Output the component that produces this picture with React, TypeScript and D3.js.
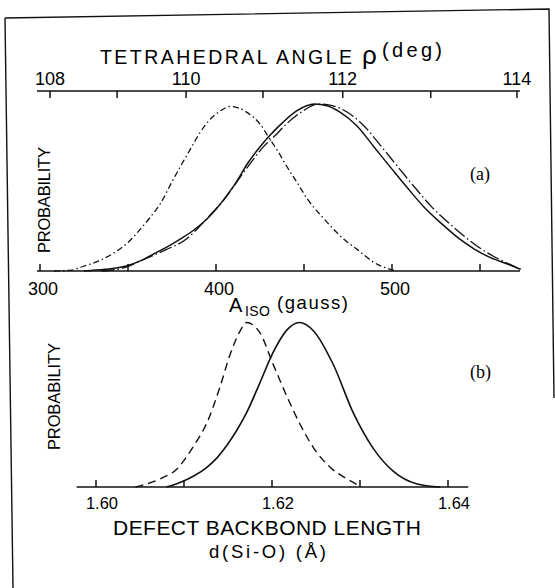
import React from 'react';
import * as d3 from 'd3';

// panel (a): A_iso (gauss) axis
const aisoTicks = [300, 350, 400, 450, 500, 550];
const aisoLabels = [300, 400, 500];
const aisoExtent = [298.3, 572.7];
// top axis: tetrahedral angle, placed at its A_iso equivalent
const angleTicks = [108, 109, 110, 111, 112, 113, 114];
const angleAtGauss = [305.7, 343.8, 383, 426.7, 472, 522, 571];
const angleLabels = [108, 110, 112, 114];

// panel (a) curves [A_iso, probability]
const aisoSolid: [number, number][] = [
  [325, 0], [337, 0.01], [349, 0.03], [358, 0.065], [366, 0.11], [374, 0.155],
  [381, 0.2], [388, 0.25], [394.7, 0.31], [400, 0.37], [406, 0.45], [412, 0.54],
  [418, 0.645], [424, 0.73], [430, 0.805], [438, 0.89], [446, 0.96], [456, 1.0],
  [463, 0.99], [470, 0.955], [480, 0.87], [490, 0.74], [500, 0.61], [509, 0.495],
  [518, 0.385], [528, 0.285], [538, 0.195], [547, 0.13], [556, 0.08], [566, 0.04],
  [573, 0.01],
];
const aisoLongDashDot: [number, number][] = [
  [335, 0], [348, 0.02], [359, 0.069], [371, 0.125], [383, 0.19], [391, 0.27],
  [398, 0.35], [404, 0.42], [410, 0.506], [415, 0.58], [421, 0.665], [427, 0.745],
  [433, 0.805], [441, 0.89], [449, 0.955], [458, 1.0], [466, 0.99], [474, 0.955],
  [484, 0.87], [494, 0.745], [504, 0.615], [513, 0.5], [522, 0.39], [532, 0.29],
  [542, 0.2], [551, 0.13], [560, 0.075], [568, 0.035], [573, 0.01],
];
const aisoShifted: [number, number][] = [
  [308, 0], [318, 0.005], [324.4, 0.027], [334, 0.063], [340.7, 0.1], [350, 0.171],
  [356.8, 0.248], [362.5, 0.32], [368.2, 0.4], [374.8, 0.53], [380, 0.63], [386, 0.74],
  [391, 0.83], [396, 0.9], [402, 0.955], [408, 0.985], [413, 0.975], [417.6, 0.95],
  [425, 0.88], [430, 0.8], [435, 0.72], [440, 0.63], [446, 0.53], [452, 0.43],
  [462, 0.305], [471.6, 0.2], [480.7, 0.125], [490, 0.05], [499, 0.01], [503, 0],
];

// panel (b): Si-O backbond length (Å)
const bondTicks = [1.6, 1.61, 1.62, 1.63, 1.64];
const bondLabels = ['1.60', '1.62', '1.64'];
const bondExtent = [1.5978, 1.6423];
const bondDashed: [number, number][] = [
  [1.6045, 0], [1.6052, 0.01], [1.6073, 0.05], [1.6092, 0.11], [1.6111, 0.25],
  [1.6126, 0.39], [1.6141, 0.61], [1.6152, 0.8], [1.6164, 0.95], [1.6171, 1.0],
  [1.6186, 0.94], [1.6201, 0.75], [1.6217, 0.55], [1.6232, 0.38], [1.6247, 0.24],
  [1.6266, 0.12], [1.6285, 0.05], [1.63, 0.005],
];
const bondSolid: [number, number][] = [
  [1.608, 0], [1.6099, 0.035], [1.6112, 0.07], [1.6126, 0.12], [1.6138, 0.18],
  [1.6149, 0.255], [1.616, 0.345], [1.6171, 0.45], [1.6186, 0.63], [1.6201, 0.815],
  [1.6217, 0.955], [1.6231, 1.0], [1.6247, 0.95], [1.627, 0.74], [1.6292, 0.455],
  [1.6315, 0.235], [1.6338, 0.095], [1.6364, 0.02], [1.6391, 0],
];

const sans = '"Liberation Sans", Arial, sans-serif';
const serif = '"Liberation Serif", serif';

export default function App() {
  const xA = d3.scaleLinear().domain([300, 500]).range([40, 392]);
  const yA = d3.scaleLinear().domain([0, 1]).range([271, 104]);
  const xB = d3.scaleLinear().domain([1.6, 1.64]).range([96, 448]);
  const yB = d3.scaleLinear().domain([0, 1]).range([487, 322.5]);

  const lineA = d3.line<[number, number]>().x(d => xA(d[0])).y(d => yA(d[1])).curve(d3.curveMonotoneX);
  const lineB = d3.line<[number, number]>().x(d => xB(d[0])).y(d => yB(d[1])).curve(d3.curveMonotoneX);

  const topY = 91;
  const baseA = yA(0);
  const baseB = yB(0);

  return (
    <svg width={555} height={588} style={{ position: 'absolute', left: 0, top: 0, background: '#fff' }}>
      <g fill="none" stroke="#111" strokeWidth={1.4}>
        <path d="M5,18 L549,9 L554,398" />
        <path d="M5,18 L13,588" />
      </g>

      {/* panel (a) top axis: tetrahedral angle */}
      <text x={100} y={64} fontFamily={sans} fontSize={19.5} textLength={252} lengthAdjust="spacing">TETRAHEDRAL ANGLE</text>
      <text x={362} y={64} fontFamily={sans} fontSize={26}>ρ</text>
      <text x={382} y={57} fontFamily={sans} fontSize={20} textLength={60} lengthAdjust="spacing">(deg)</text>
      <line x1={xA(aisoExtent[0])} x2={xA(aisoExtent[1])} y1={topY} y2={topY} stroke="#111" strokeWidth={1.5} />
      {angleTicks.map((t, i) => (
        <line key={t} x1={xA(angleAtGauss[i])} x2={xA(angleAtGauss[i])} y1={topY} y2={topY + 7} stroke="#111" strokeWidth={1.5} />
      ))}
      {angleLabels.map(t => (
        <text key={t} x={xA(angleAtGauss[angleTicks.indexOf(t)])} y={85} textAnchor="middle" fontFamily={sans} fontSize={18}>{t}</text>
      ))}

      {/* panel (a) bottom axis: A_iso */}
      <line x1={xA(aisoExtent[0])} x2={xA(aisoExtent[1])} y1={baseA} y2={baseA} stroke="#111" strokeWidth={1.5} />
      {aisoTicks.map(t => (
        <line key={t} x1={xA(t)} x2={xA(t)} y1={baseA} y2={baseA - 7} stroke="#111" strokeWidth={1.5} />
      ))}
      {aisoLabels.map(t => (
        <text key={t} x={xA(t) + 3} y={295} textAnchor="middle" fontFamily={sans} fontSize={18}>{t}</text>
      ))}
      <text x={229} y={312} fontFamily={sans} fontSize={20}>A</text>
      <text x={245} y={316} fontFamily={sans} fontSize={14} textLength={25} lengthAdjust="spacing">ISO</text>
      <text x={277} y={309} fontFamily={sans} fontSize={18.5} textLength={71} lengthAdjust="spacing">(gauss)</text>

      <text transform="translate(50,253) rotate(-90)" fontFamily={sans} fontSize={16.5} textLength={106} lengthAdjust="spacing">PROBABILITY</text>
      <text x={470} y={180} fontFamily={serif} fontSize={18}>(a)</text>

      <g fill="none" stroke="#111">
        <path d={lineA(aisoShifted) ?? ''} strokeWidth={1.3} strokeDasharray="6,3,1.5,3" />
        <path d={lineA(aisoLongDashDot) ?? ''} strokeWidth={1.3} strokeDasharray="13,3,1.5,3" />
        <path d={lineA(aisoSolid) ?? ''} strokeWidth={1.5} />
      </g>

      {/* panel (b) */}
      <line x1={xB(bondExtent[0])} x2={xB(bondExtent[1])} y1={baseB} y2={baseB} stroke="#111" strokeWidth={1.5} />
      {bondTicks.map(t => (
        <line key={t} x1={xB(t)} x2={xB(t)} y1={baseB} y2={baseB - 7} stroke="#111" strokeWidth={1.5} />
      ))}
      {bondLabels.map(t => (
        <text key={t} x={xB(+t) + 6} y={509} textAnchor="middle" fontFamily={sans} fontSize={16.5}>{t}</text>
      ))}
      <text x={113} y={535} fontFamily={sans} fontSize={21} textLength={308} lengthAdjust="spacing">DEFECT BACKBOND LENGTH</text>
      <text x={209} y={558} fontFamily={sans} fontSize={18.5} textLength={117} lengthAdjust="spacing">d(Si-O) (Å)</text>

      <text transform="translate(60,450) rotate(-90)" fontFamily={sans} fontSize={16.5} textLength={107} lengthAdjust="spacing">PROBABILITY</text>
      <text x={470} y={378} fontFamily={serif} fontSize={18}>(b)</text>

      <g fill="none" stroke="#111">
        <path d={lineB(bondDashed) ?? ''} strokeWidth={1.4} strokeDasharray="8,5" />
        <path d={lineB(bondSolid) ?? ''} strokeWidth={1.6} />
      </g>
    </svg>
  );
}
